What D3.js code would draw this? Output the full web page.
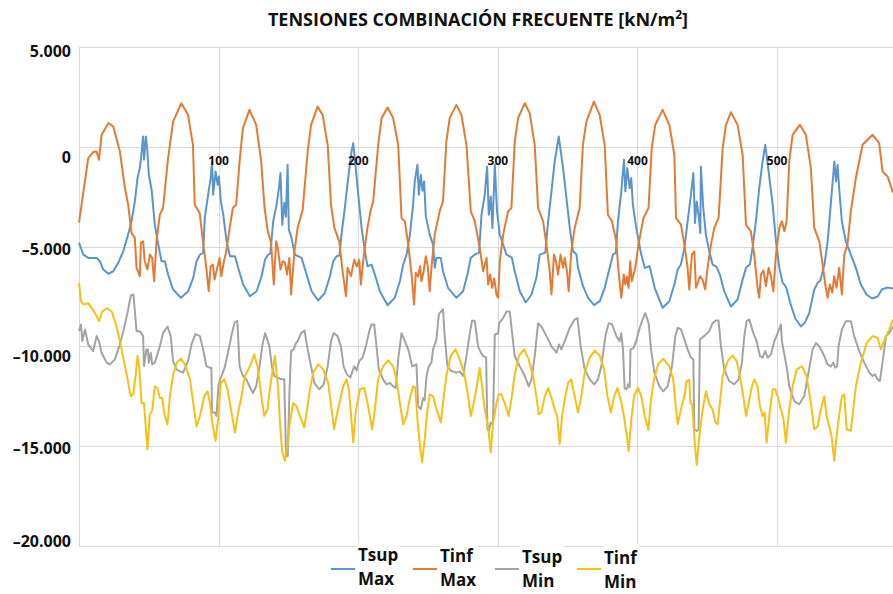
<!DOCTYPE html>
<html>
<head>
<meta charset="utf-8">
<script src="https://cdnjs.cloudflare.com/ajax/libs/d3/7.8.5/d3.min.js"></script>
<style>
body{margin:0;background:#fff;}
svg{display:block;font-family:"Open Sans",sans-serif;font-weight:bold;}
</style>
</head>
<body>
<script>
// data: [section, tension kN/m2]
let tsupMax = [[0,-4800],[3.1,-5400],[6.6,-5565],[12.6,-5565],[15,-5735],[17.4,-6150],[21,-6365],[24.5,-6235],[28.1,-5815],[31.7,-5235],[35.2,-4400],[37.6,-3735],[40,-2735],[41.9,-1565],[43.6,-1065],[44.8,-315],[45.9,515],[46.6,-650],[47.9,515],[49,-235],[50,-1400],[52,-2150],[54.3,-3900],[56.8,-4900],[59.1,-5735],[61.5,-5735],[63.8,-6400],[67.4,-7150],[73,-7565],[78.2,-7235],[81.8,-6565],[84.2,-5735],[86.6,-5400],[88.9,-5315],[90.1,-3565],[92.5,-2400],[94.3,-1565],[95.3,-735],[96.1,-2400],[97.8,-1235],[99.3,-1900],[100.2,-1485],[101.6,-2735],[103.3,-3400],[105.7,-4735],[108.1,-5485],[111.7,-5485],[114,-6065],[117.6,-6900],[122.4,-7485],[127.2,-7235],[130.8,-6485],[133.2,-5650],[135.5,-5400],[137,-5350],[139.1,-3735],[141.5,-2900],[143.2,-2065],[144.3,-1315],[145.6,-3900],[147,-2815],[148.2,-3500],[149.4,-900],[150.3,-4150],[152.2,-4565],[154.6,-5400],[159.4,-5565],[163,-6400],[166.6,-7235],[171.3,-7700],[176.1,-7315],[179.7,-6485],[182.1,-5735],[184.5,-5485],[186.5,-5450],[188,-4400],[190.4,-3065],[192.8,-1565],[195.2,-235],[196.4,185],[198.1,-985],[200,-2400],[202.4,-4065],[204.8,-5235],[206.6,-5985],[209.5,-5900],[211.9,-6400],[215.5,-7235],[221,-7935],[226.2,-7565],[229.8,-6735],[232.2,-5900],[234.6,-5400],[237,-4400],[239.3,-2900],[240.5,-1735],[242.4,-900],[243.4,-2400],[244.8,-1400],[246,-2200],[247.2,-1735],[248.4,-3485],[251.2,-4400],[253.6,-4900],[254.8,-6065],[256,-5565],[259.1,-5565],[260.7,-6235],[264.3,-7065],[270.3,-7565],[275.1,-7235],[278.2,-6400],[280.6,-5565],[283.5,-5400],[286.5,-5300],[288.3,-3400],[290.6,-2400],[292.3,-985],[293.5,-3400],[294.9,-2485],[296.1,-4065],[297.8,-900],[299.4,-3235],[301.4,-4400],[303.8,-4900],[306.2,-5400],[310,-5550],[312.1,-6235],[315.7,-7235],[320,-7800],[324.1,-7400],[327.6,-6565],[330,-5400],[334,-5300],[336,-3735],[338.4,-2235],[340.7,-735],[343.6,515],[346.7,-1065],[349.1,-2565],[351.5,-4065],[353.8,-5235],[356.3,-5400],[357.4,-6065],[361,-6985],[364.6,-7565],[368.9,-7935],[373,-7735],[376.5,-7065],[380.1,-6065],[382.5,-5400],[384.5,-5300],[386,-3735],[388.4,-2235],[390.3,-650],[391.3,-2235],[392.7,-1065],[394.4,-2065],[395.5,-1565],[396.7,-2900],[399.1,-4065],[402.7,-5400],[405.2,-6065],[408.7,-5985],[412.3,-7065],[418,-8065],[422.8,-7735],[426.4,-6900],[428.8,-6150],[431.1,-5900],[433.6,-5065],[435.9,-3735],[438.3,-2400],[440,-1315],[441.2,-3815],[442.4,-2735],[443.7,-3400],[445,-4315],[445.4,-985],[447.1,-3065],[449,-4400],[451.4,-5235],[453.8,-5900],[456.5,-6000],[459,-6400],[462.1,-7235],[466.9,-8000],[471.7,-7650],[475.3,-6650],[477.7,-6065],[480.5,-5900],[482.4,-5065],[484.8,-3735],[487.2,-2065],[489.6,-735],[491.5,100],[493.9,-1235],[496.8,-2900],[499.2,-4735],[501.6,-6065],[503.9,-6800],[506.3,-7000],[509.5,-7835],[513,-8600],[517,-9000],[520,-8800],[523,-8335],[526.6,-7150],[529,-6815],[531,-6700],[533.9,-5900],[536.2,-4735],[538.6,-2735],[541,-735],[542.2,-1735],[543.3,-900],[544.5,-2150],[546.4,-3735],[549.2,-4735],[552.8,-5400],[556.4,-6065],[560,-6900],[564,-7400],[568,-7600],[572,-7500],[575,-7150],[579,-7050],[583,-7100]];

let tinfMax = [[0,-3800],[6.6,-565],[10.2,-265],[12.6,-235],[14.3,-650],[16.2,600],[21,1185],[24.5,1015],[29.3,-235],[32.9,-2065],[35.2,-2900],[37.6,-4315],[40,-4565],[41.2,-6065],[43.6,-6485],[44.3,-4815],[45.9,-4735],[47.1,-5735],[49,-6150],[50.7,-5400],[52.4,-5565],[53.8,-6735],[55.5,-4735],[57.9,-3400],[60.2,-3065],[63.8,-565],[67.4,1265],[73.3,2185],[78.1,1600],[81.6,100],[82.9,-2900],[86.4,-3315],[88.8,-4735],[91.2,-6065],[92.9,-7235],[94.3,-5985],[95.9,-5900],[97.1,-6650],[99,-6065],[100.7,-5565],[101.9,-6485],[103.8,-5735],[105.5,-5235],[107.9,-4065],[110.2,-3065],[112.6,-2900],[115,-735],[117.4,935],[122.1,1850],[126.9,1100],[130.5,-735],[132.9,-3065],[135.2,-4235],[137.6,-4815],[139.5,-6900],[141.2,-4735],[142.4,-5065],[144.3,-6150],[145.9,-5735],[147.5,-5800],[149,-6400],[150.7,-5565],[151.9,-7400],[154.3,-5235],[156.6,-4065],[160.2,-3150],[163.8,-235],[166.2,1100],[170.9,2015],[174.5,1600],[178.1,100],[180.5,-2900],[182.9,-4065],[186.4,-4735],[188.8,-6235],[191.2,-7485],[192.4,-6065],[194.8,-6485],[197.1,-5650],[199,-6000],[200.7,-5650],[201.9,-6900],[203.8,-5565],[206.6,-4065],[209,-3150],[210.7,-2735],[214.3,100],[216.7,1435],[221,1965],[225,1435],[228.6,100],[231,-3565],[233.4,-3735],[235.8,-4900],[238.2,-6400],[240,-7900],[241.2,-6315],[242.8,-6500],[244.3,-5985],[245.2,-6735],[246.7,-6300],[248.4,-5485],[249.8,-6000],[251.2,-7235],[252.4,-6065],[254.8,-4400],[258.3,-3235],[260.7,-2735],[263.1,265],[265.5,1435],[270.3,2100],[273.9,1600],[277.5,100],[280.6,-3235],[283.5,-3735],[287,-5065],[289.5,-6235],[291.9,-5565],[293,-6900],[294.5,-6400],[295.9,-7065],[297.4,-6600],[299,-7400],[300.2,-7565],[301.4,-5735],[303.8,-4400],[307.3,-3235],[309.7,-3065],[312.1,265],[314.5,1435],[319.3,2185],[322.8,1685],[326.4,100],[328.8,-3065],[332.4,-3735],[334.8,-4900],[337.1,-6235],[338.4,-7400],[340.2,-5400],[341.8,-5800],[343.1,-6400],[344.9,-5400],[346.7,-6065],[347.9,-5565],[349.6,-6300],[350.7,-7235],[352.6,-5235],[355,-4065],[358.6,-3065],[360.9,100],[363.4,1265],[368.8,2265],[372.9,1600],[376.5,100],[378.8,-3400],[381.7,-3735],[384.8,-4735],[386.4,-6235],[388.4,-7565],[390.2,-6400],[391.3,-6900],[392.4,-6500],[393.6,-7065],[394.8,-5735],[395.9,-6735],[398.4,-6065],[400.7,-4900],[404.3,-3565],[407.9,-3065],[410.2,-65],[412.7,1100],[418,1850],[422.8,1100],[426.4,-400],[427.6,-3565],[431.1,-3900],[433.6,-4900],[435.9,-6065],[437.1,-7150],[439,-5400],[440.7,-5235],[441.9,-7065],[443.3,-6800],[444.7,-6485],[446.6,-6650],[448.5,-7150],[450.2,-6065],[452.6,-4900],[455,-4065],[458.1,-3565],[461,-65],[463.4,1100],[466.9,1735],[471.7,1100],[475.3,-400],[477.7,-3900],[481.2,-4235],[483.6,-5400],[486,-7065],[487.2,-7565],[488.4,-6400],[490.2,-6200],[492,-6985],[493.9,-6065],[495.6,-6485],[497.3,-7235],[499.2,-5400],[501.6,-4065],[503.4,-3735],[505.2,-4235],[506.8,-3735],[508.7,-735],[511.1,600],[516.3,1100],[520.6,600],[524.2,-1065],[526.6,-4065],[530.2,-4735],[532.6,-5900],[534.5,-6900],[536.2,-7565],[537.8,-6900],[539.5,-7300],[540.9,-6485],[542.6,-7065],[544.4,-6065],[546.4,-7400],[548.1,-5400],[550.4,-4900],[552.8,-3235],[556.4,-1565],[561.2,100],[568.4,600],[573.1,185],[575.5,-1235],[579.1,-1485],[583,-2300]];

let tsupMin = [[0,-9235],[1.4,-8900],[2.4,-9735],[4.3,-9150],[6.6,-9900],[10.2,-10235],[12.6,-9485],[14.3,-9735],[16.2,-10315],[19.8,-10815],[22.1,-10900],[25.7,-10650],[29.3,-9900],[32.9,-8900],[35.2,-8150],[37.1,-7450],[39,-7400],[41.2,-9235],[43.6,-9235],[45.9,-9485],[46.6,-10985],[48.3,-10150],[49.3,-10150],[50,-10815],[51.4,-10315],[52.4,-10900],[54.3,-10815],[57.9,-10000],[60.2,-9335],[63.4,-9000],[65.7,-9485],[67.4,-10735],[69.8,-11150],[72.1,-11235],[74.5,-11315],[78.1,-10735],[80.6,-9900],[83.4,-9385],[86.6,-9485],[88.9,-10150],[91.2,-10985],[93.6,-11065],[94.8,-11065],[95.3,-13315],[97.3,-13315],[98.4,-13485],[100,-11900],[102,-11485],[104.3,-11065],[106.7,-10315],[109.1,-9485],[111.5,-8785],[113.4,-8735],[115,-10985],[117.4,-11485],[119.8,-11650],[122.1,-12000],[124.5,-12335],[126.9,-12000],[129.3,-11000],[131.6,-9835],[133.3,-9335],[136.4,-10000],[138.1,-11000],[140,-11485],[142.4,-11565],[144.8,-11650],[147,-11650],[148.3,-15485],[149.5,-15485],[150.7,-12335],[151.9,-10235],[153.8,-10150],[155,-9900],[156.6,-9735],[159.1,-9335],[161.5,-9200],[163.8,-10150],[166.2,-11000],[168.6,-11835],[172.1,-12150],[175.2,-11900],[178.1,-11000],[180.5,-9735],[182.4,-9335],[185.2,-9485],[187.6,-10000],[189.5,-11000],[191.9,-11400],[194.3,-11565],[197.1,-11000],[198.8,-11200],[200.7,-10735],[203.1,-10565],[205.5,-10000],[207.9,-9235],[209.5,-8900],[211.4,-8900],[213.1,-10000],[214.7,-11150],[217.8,-11650],[220.2,-11900],[222.6,-11835],[225,-12000],[226.9,-12085],[228.6,-10650],[231,-9335],[233.4,-9735],[236.2,-10235],[238.6,-11000],[241.7,-10900],[242.9,-13000],[244.8,-13150],[246.4,-12600],[247.5,-12700],[248.9,-11485],[250.5,-11000],[252.4,-10815],[253.6,-10150],[256,-9650],[257.7,-8400],[260.7,-8135],[261.9,-9485],[263.9,-11000],[266.7,-11235],[270.3,-11315],[272.7,-11250],[275.1,-11485],[277.5,-10485],[279.9,-9335],[281.5,-8700],[283.5,-8735],[285.8,-10000],[287.8,-10315],[289.5,-10485],[291.6,-10550],[292.5,-14150],[293.5,-14235],[294.9,-13815],[296.5,-13900],[297.8,-9400],[300.2,-9350],[300.9,-8835],[303.8,-8585],[306.2,-8250],[308.5,-8250],[310.2,-9335],[312.1,-10485],[315.7,-11000],[319.3,-11485],[322.1,-12000],[324.1,-11650],[326.4,-10485],[328.8,-8835],[331.2,-9000],[334.8,-9485],[338.4,-10000],[342,-10315],[343.8,-9900],[345.5,-10150],[347.9,-9735],[351.5,-9065],[355,-8650],[357,-8585],[359.3,-10000],[362.2,-11150],[365.8,-11650],[368.9,-11900],[371.7,-11650],[374.1,-11000],[377,-9485],[379.4,-8835],[381.7,-8900],[384.9,-9485],[387.3,-9735],[388.4,-9335],[389.6,-10150],[390.8,-12100],[392.2,-12150],[393.3,-11900],[394.4,-12050],[395,-10150],[397,-10100],[399.1,-9735],[401.6,-9065],[403.7,-8650],[405.6,-8335],[408,-8835],[409.7,-10150],[412.1,-11315],[415.7,-12000],[418.5,-12250],[421.6,-12000],[424.7,-11000],[427.1,-9485],[428.8,-9065],[431.1,-9150],[433.6,-9650],[435.9,-10150],[438.3,-10565],[440,-10650],[440.7,-14150],[442.4,-14235],[443.8,-14150],[444.7,-9650],[446.2,-9565],[449,-9400],[451.4,-9235],[453.8,-8835],[456.2,-8700],[458,-8700],[459.8,-10000],[462.1,-11150],[465.7,-11735],[469.3,-11900],[472.4,-11650],[474.8,-10815],[476.5,-9485],[478.2,-8735],[480.1,-8650],[482.5,-9235],[485.3,-9735],[487.7,-10485],[489.6,-10565],[491.5,-10235],[493.2,-10565],[495.6,-10400],[498,-9735],[500.4,-9335],[502.7,-8900],[503.4,-9735],[506.8,-11000],[508.7,-12000],[512.3,-12750],[515.8,-12900],[519.4,-12500],[522.5,-11315],[525.4,-10150],[527.8,-9835],[530.2,-10000],[533.8,-10485],[536.1,-10900],[538.5,-11000],[540.2,-10815],[541.6,-11065],[543,-11000],[544,-10000],[546.4,-9150],[549.2,-8735],[552.8,-8735],[555.2,-9485],[558.8,-10235],[562.4,-10815],[566,-11315],[568.4,-11485],[570,-11400],[571.9,-11650],[573.6,-11735],[576.1,-10485],[578,-9485],[580.4,-9335],[583,-9000]];

let tinfMin = [[0,-6815],[1.4,-7735],[3.1,-7900],[6.6,-7835],[9.1,-8085],[11.5,-8335],[14.3,-8735],[16.7,-8250],[19.8,-8085],[23.4,-8250],[26.9,-9000],[29.3,-9735],[32.4,-10815],[34.8,-11650],[37.1,-12500],[38.9,-12400],[40.5,-11485],[41.9,-10485],[43.1,-11000],[44.8,-12835],[46.5,-12835],[47.6,-13815],[49,-15150],[50.7,-13400],[52.4,-13235],[54.3,-12000],[56.2,-12085],[57.9,-12585],[59.5,-12585],[61.5,-13485],[63.4,-13900],[65.1,-12500],[67.5,-11400],[69.9,-10815],[73,-10615],[75.9,-10900],[79.5,-11650],[81.8,-12835],[84.2,-14015],[86.6,-13485],[89.7,-12500],[92.1,-12250],[93.8,-12835],[95.4,-13815],[97.8,-14735],[99.7,-13565],[101.6,-11835],[104,-11650],[106.4,-12150],[108.8,-13150],[111.7,-14315],[114,-13315],[116.4,-12500],[118.8,-11485],[122.4,-11000],[125.5,-10400],[127.9,-11000],[130.3,-12335],[132.6,-13485],[135,-13150],[136.7,-12150],[139.1,-11000],[140.3,-10485],[142.7,-12150],[143.9,-13815],[145.5,-15235],[147.5,-15735],[149.4,-14985],[151,-13815],[153.4,-12835],[155.8,-13000],[158.2,-13485],[161.3,-14065],[163,-13315],[165.4,-12150],[167.8,-11315],[171.3,-10900],[174.9,-11150],[178.5,-11835],[180.9,-13150],[182.7,-14150],[184.5,-13485],[186.8,-12750],[189.2,-12000],[191.6,-11650],[193.3,-12150],[194.7,-13315],[196.4,-14815],[198.1,-13315],[201.2,-12150],[204.3,-12085],[207.1,-13000],[210,-14150],[211.9,-13150],[214.2,-11650],[217.8,-11000],[221.4,-10700],[225,-11000],[227.4,-11650],[229.8,-12835],[232.2,-13900],[234.6,-13485],[237,-12585],[239.3,-12000],[240.8,-12050],[242.4,-13650],[244,-14815],[245.7,-15815],[247.6,-14650],[249.5,-13235],[251.2,-12400],[253.6,-12500],[256,-13150],[257.7,-13485],[259.1,-13815],[260.7,-12835],[263.1,-11485],[266.2,-10485],[269.6,-10150],[272.7,-10650],[275.8,-11315],[278.7,-12500],[280.6,-13485],[282.2,-13000],[284.6,-12150],[287,-11065],[288.7,-12000],[290.6,-13150],[293,-14015],[294.9,-15300],[296.6,-13815],[299,-12835],[300.6,-12400],[302.5,-12400],[304.9,-12835],[307.8,-13485],[309.7,-12650],[312.1,-11400],[315,-10485],[318.8,-10150],[322.1,-10650],[325.2,-11485],[327.6,-12500],[329.3,-13400],[331.2,-13300],[333.6,-12500],[336,-12085],[338.5,-12600],[340.7,-13150],[342.5,-13500],[344.3,-14900],[346,-13485],[347.9,-12650],[350.3,-11835],[352.6,-11650],[355,-12500],[357.4,-13315],[359.8,-12500],[362.2,-11315],[365.8,-10565],[369.4,-10200],[373,-10485],[376.1,-11150],[378.5,-12500],[380.9,-13315],[383.3,-12500],[385.7,-12085],[388.5,-12835],[390.3,-13500],[392,-14315],[393.7,-15235],[395.6,-13650],[397.5,-12500],[400.4,-12085],[402.8,-12500],[405.2,-13485],[407.8,-14185],[409.4,-12835],[411.8,-11650],[414.7,-10900],[418.4,-10615],[422.8,-11000],[425.6,-11650],[427.6,-13150],[428.8,-13900],[431.1,-13150],[433.6,-12500],[435.2,-11735],[437.1,-11685],[437.9,-12835],[439.2,-12900],[440.7,-14515],[442.4,-15935],[444.3,-14515],[446.7,-13150],[449,-12250],[451.4,-12900],[453.8,-13150],[455.7,-13815],[457.4,-13900],[459,-12835],[461,-11485],[464.6,-10735],[468.1,-10450],[471,-10735],[473.4,-11485],[475.8,-12500],[477.7,-13485],[479.6,-12835],[482,-12000],[483.6,-11650],[486,-12000],[487.7,-13000],[489.6,-13485],[491,-13300],[492.5,-14815],[494.4,-13485],[496.8,-12150],[498.6,-12150],[500.4,-12500],[502.7,-13150],[504.5,-13600],[506.3,-14815],[508.7,-13150],[511.1,-12000],[514,-11150],[517.8,-11000],[521.1,-11485],[524.2,-12835],[526.6,-14150],[529,-14015],[531.3,-13150],[533.8,-12500],[535.4,-13485],[537.4,-14015],[539,-14500],[540.9,-15735],[542.6,-14515],[544.5,-13400],[546.4,-12500],[548.1,-12400],[549.8,-14150],[552.8,-14235],[554.5,-13150],[556.4,-12000],[560,-10815],[564.1,-9835],[568.4,-9485],[572,-9565],[574.3,-10150],[577.5,-9565],[580.4,-9150],[583,-8650]];

let seriesNames = [["Tsup","Max"],["Tinf","Max"],["Tsup","Min"],["Tinf","Min"]];
let yTicks = [5000,0,-5000,-10000,-15000,-20000];
let yTickLabels = ["5.000","0","\u20135.000","\u201310.000","\u201315.000","\u201320.000"];
let xTicks = [100,200,300,400,500];
let title = "TENSIONES COMBINACI\u00d3N FRECUENTE [kN/m";

// layout / style
let W = 893, H = 594;
let margin = {left: 79, right: 0, top: 47, bottom: 48};
let colors = ["#5b95cc","#e27b34","#a3a3a3","#f6c018"];
let yLabelNudge = [10,16,8,16,8,1];

let svg = d3.select("body").append("svg").attr("width",W).attr("height",H);

let x = d3.scaleLinear().domain([0,583]).range([margin.left, W - margin.right]);
let y = d3.scaleLinear().domain([-20000,5000]).range([H - margin.bottom, margin.top]);

// grid
let grid = svg.append("g").attr("stroke","#d9d9d9").attr("stroke-width",1);
grid.selectAll(".h").data(yTicks).enter().append("line")
    .attr("x1",x(0)).attr("x2",x(583))
    .attr("y1",d=>Math.round(y(d))+0.5).attr("y2",d=>Math.round(y(d))+0.5);
grid.selectAll(".v").data([0].concat(xTicks)).enter().append("line")
    .attr("x1",d=>Math.round(x(d))+0.5).attr("x2",d=>Math.round(x(d))+0.5)
    .attr("y1",y(5000)).attr("y2",y(-20000));

// y labels
svg.append("g").selectAll("text").data(yTicks).enter().append("text")
    .attr("x",x(0)-8).attr("y",(d,i)=>y(d)+yLabelNudge[i])
    .attr("text-anchor","end").attr("font-size",16).attr("fill","#111")
    .text((d,i)=>yTickLabels[i]);

// series
let line = d3.line().x(d=>x(d[0])).y(d=>y(d[1]));
let allSeries = [tsupMax, tinfMax, tsupMin, tinfMin];
svg.append("g").selectAll("path").data(allSeries).enter().append("path")
    .attr("d",line).attr("fill","none")
    .attr("stroke",(d,i)=>colors[i]).attr("stroke-width",2)
    .attr("stroke-linejoin","round");

// x labels sit just under the zero line
svg.append("g").selectAll("text").data(xTicks).enter().append("text")
    .attr("x",d=>x(d)).attr("y",y(0)+18)
    .attr("text-anchor","middle").attr("font-size",12).attr("fill","#111")
    .text(d=>d);

// title
let t = svg.append("text").attr("x",478).attr("y",26).attr("text-anchor","middle")
    .attr("font-size",18).attr("fill","#111").text(title);
t.append("tspan").attr("font-size",12).attr("dy",-7).text("2");
t.append("tspan").attr("dy",7).text("]");

// legend
let legend = svg.append("g");
seriesNames.forEach((nm,i)=>{
  let x0 = 331 + i*82;
  let g = legend.append("g");
  let bg = g.append("rect").attr("fill","#fff");
  g.append("line").attr("x1",x0).attr("x2",x0+24)
      .attr("y1",569).attr("y2",569)
      .attr("stroke",colors[i]).attr("stroke-width",2);
  let t1 = g.append("text").attr("x",x0+27).attr("y",560.5+i*1.2)
      .attr("font-size",17).attr("fill","#111").text(nm[0]);
  let t2 = g.append("text").attr("x",x0+27).attr("y",585+i*1.1)
      .attr("font-size",17).attr("fill","#111").text(nm[1]);
  let w = Math.max(t1.node().getComputedTextLength(), t2.node().getComputedTextLength());
  bg.attr("x",x0+26).attr("y",543).attr("width",w+3).attr("height",51);
});
</script>
</body>
</html>
